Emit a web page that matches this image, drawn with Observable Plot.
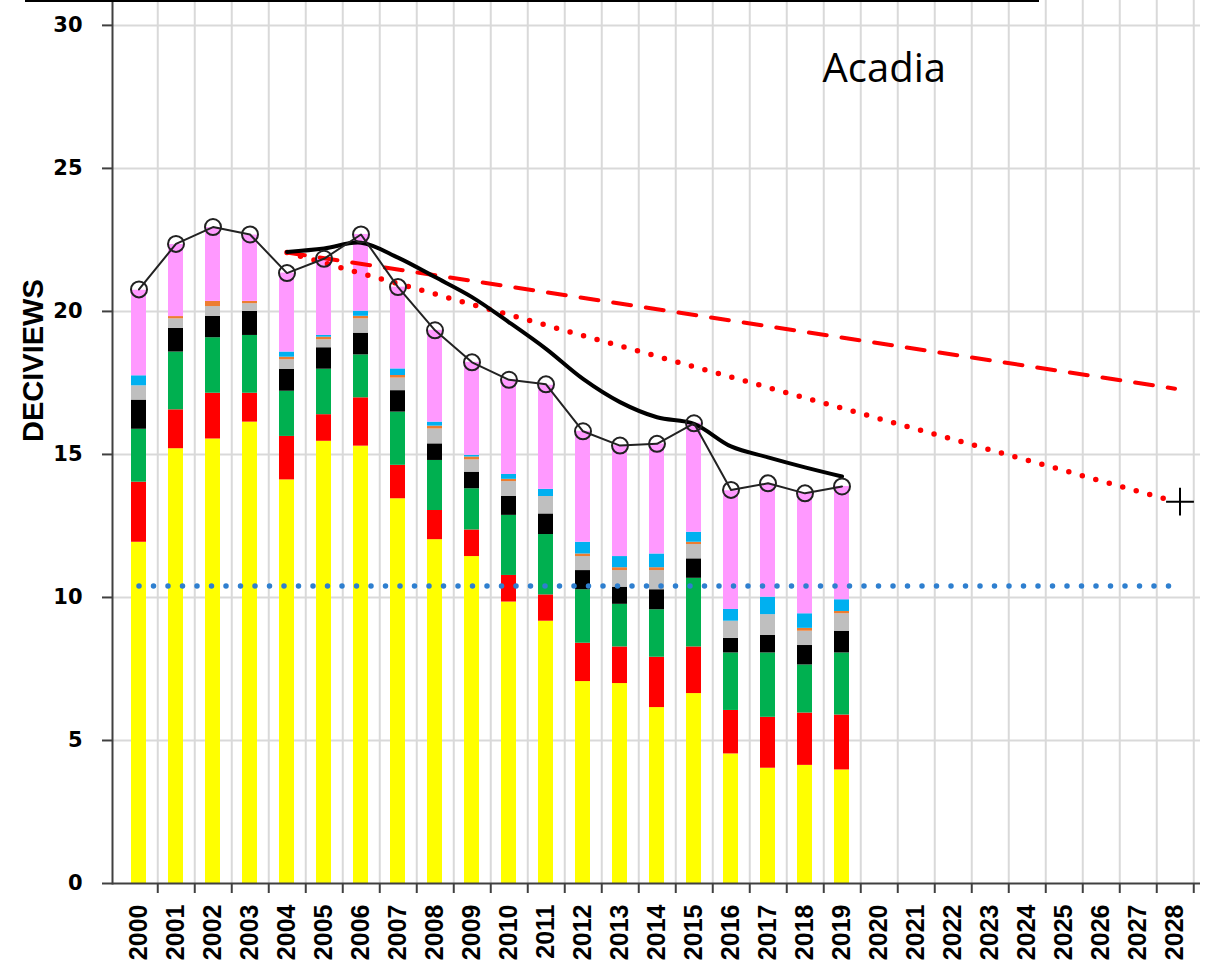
<!DOCTYPE html>
<html><head><meta charset="utf-8">
<script src="https://cdn.jsdelivr.net/npm/d3@7"></script>
<script src="https://cdn.jsdelivr.net/npm/@observablehq/plot@0.6"></script>
<style>
html,body{margin:0;padding:0;background:#fff;overflow:hidden}
#wrap{position:relative;width:1216px;height:974px}
#wrap svg{position:absolute;left:0;top:0}
#box{position:absolute;left:25px;top:-42px;width:1010px;height:40px;border:2px solid #000;z-index:2}
</style></head><body><div id="wrap"><div id="box"></div></div>
<script>
// ---- categories / tick labels ----
const years = [2000,2001,2002,2003,2004,2005,2006,2007,2008,2009,2010,2011,2012,2013,2014,2015,2016,2017,2018,2019,2020,2021,2022,2023,2024,2025,2026,2027,2028];
const dataYears = [2000,2001,2002,2003,2004,2005,2006,2007,2008,2009,2010,2011,2012,2013,2014,2015,2016,2017,2018,2019];
const yTicks = [0,5,10,15,20,25,30];
const siteName = "Acadia";
const yLabel = "DECIVIEWS";

// ---- stacked components (deciviews), bottom to top ----
const sulfate = [11.93,15.20,15.54,16.13,14.11,15.46,15.29,13.45,12.02,11.43,9.84,9.17,7.06,6.99,6.15,6.64,4.53,4.03,4.13,3.97];
const nitrate = [2.10,1.36,1.60,1.01,1.52,0.93,1.69,1.17,1.02,0.93,0.93,0.92,1.34,1.28,1.76,1.63,1.52,1.78,1.83,1.92];
const organic = [1.85,2.02,1.94,2.02,1.58,1.59,1.50,1.86,1.75,1.44,2.10,2.11,1.87,1.49,1.66,2.40,2.01,2.25,1.68,2.17];
const elemental = [1.02,0.83,0.75,0.84,0.76,0.75,0.76,0.75,0.58,0.58,0.66,0.72,0.67,0.60,0.70,0.68,0.51,0.61,0.68,0.76];
const soil = [0.50,0.33,0.34,0.27,0.34,0.28,0.50,0.44,0.52,0.43,0.52,0.61,0.49,0.58,0.67,0.50,0.60,0.73,0.50,0.61];
const seaSalt = [0.00,0.08,0.18,0.08,0.09,0.09,0.09,0.09,0.10,0.10,0.08,0.00,0.09,0.10,0.10,0.08,0.00,0.00,0.10,0.08];
const coarse = [0.35,0.00,0.00,0.00,0.18,0.06,0.18,0.23,0.14,0.06,0.17,0.25,0.41,0.39,0.48,0.35,0.41,0.61,0.51,0.41];
const rayleigh = [2.99,2.52,2.58,2.32,2.76,2.68,2.68,2.86,3.21,3.25,3.31,3.64,3.88,3.88,3.85,3.81,4.15,3.95,4.21,3.96];

// ---- lines ----
const totals = [20.77,22.36,22.95,22.69,21.34,21.84,22.69,20.85,19.34,18.22,17.61,17.45,15.81,15.31,15.37,16.09,13.76,13.99,13.64,13.88];
const avgYears = [2004,2005,2006,2007,2008,2009,2010,2011,2012,2013,2014,2015,2016,2017,2018,2019];
const rollingAvg = [22.08,22.2,22.4,21.88,21.2,20.5,19.62,18.69,17.64,16.83,16.3,16.07,15.28,14.9,14.55,14.23];
const pathYears = [2004,2028];
const dashedPath = [22.06,17.3];
const dottedPath = [22.06,13.35];
const naturalYears = [2000,2028];
const naturalValue = [10.4,10.4];
const goalYear = [2028];
const goalValue = [13.35];

const seriesNames = ["Sulfate","Nitrate","Organic","Elemental Carbon","Soil","Sea Salt","Coarse Mass","Rayleigh"];
const seriesValues = [sulfate,nitrate,organic,elemental,soil,seaSalt,coarse,rayleigh];
const seriesColors = ["#FFFF00","#FF0000","#00B050","#000000","#BFBFBF","#ED7D31","#00B0F0","#FF99FF"];

const rows = [];
seriesNames.forEach((name, s) => dataYears.forEach((yr, i) => rows.push({year: yr, series: name, value: seriesValues[s][i]})));
const totalRows = dataYears.map((yr, i) => ({year: yr, v: totals[i]}));
const avgRows = avgYears.map((yr, i) => ({year: yr, v: rollingAvg[i]}));
const dashedRows = pathYears.map((yr, i) => ({year: yr, v: dashedPath[i]}));
const dottedRows = pathYears.map((yr, i) => ({year: yr, v: dottedPath[i]}));
const naturalRows = naturalYears.map((yr, i) => ({year: yr, v: naturalValue[i]}));
const goalRows = goalYear.map((yr, i) => ({year: yr, v: goalValue[i]}));

const left = 112, right = 1200;
const step = (right - left) / years.length;

const chart = Plot.plot({
  width: 1216, height: 974,
  marginLeft: left, marginRight: 1216 - right, marginTop: 0, marginBottom: 91,
  style: {fontFamily: "'DejaVu Sans', sans-serif", background: "white", color: "#000"},
  x: {type: "band", domain: years, paddingInner: 0.6, paddingOuter: 0.3, axis: null},
  y: {domain: [0, 30.87], axis: null},
  color: {domain: seriesNames, range: seriesColors},
  marks: [
    Plot.ruleY(yTicks.filter(d => d > 0), {stroke: "#d9d9d9", strokeWidth: 2}),
    Plot.ruleX(years, {x: d => d, dx: step / 2, stroke: "#d9d9d9", strokeWidth: 2}),
    Plot.barY(rows, {x: "year", y: "value", fill: "series", order: seriesNames}),
    Plot.axisY(yTicks, {tickSize: 10, tickPadding: 20, fontSize: 21, fontWeight: "bold", strokeWidth: 2, stroke: "#404040", label: null}),
    Plot.axisX(years, {tickSize: 0, tickPadding: 21, tickRotate: -90, fontSize: 25, fontWeight: "bold", fontFamily: "'Liberation Sans', Arial, sans-serif", tickFormat: d => String(d), label: null}),
    Plot.axisX(years, {tickSize: 10, tickFormat: () => "", dx: step / 2, strokeWidth: 2, stroke: "#404040", label: null}),
    Plot.frame({anchor: "left", stroke: "#404040", strokeWidth: 2}),
    Plot.ruleY([0], {stroke: "#404040", strokeWidth: 2}),
    Plot.lineY(naturalRows, {x: "year", y: "v", stroke: "#2E7FCF", strokeWidth: 5.5, strokeDasharray: "0,14.5", strokeLinecap: "round"}),
    Plot.lineY(dashedRows, {x: "year", y: "v", stroke: "#FF0000", strokeWidth: 4, strokeDasharray: "18,15"}),
    Plot.lineY(dottedRows, {x: "year", y: "v", stroke: "#FF0000", strokeWidth: 5.5, strokeDasharray: "0,14", strokeLinecap: "round"}),
    Plot.lineY(avgRows, {x: "year", y: "v", stroke: "#000", strokeWidth: 4, curve: "catmull-rom"}),
    Plot.lineY(totalRows, {x: "year", y: "v", stroke: "#222", strokeWidth: 2}),
    Plot.dot(totalRows, {x: "year", y: "v", r: 8, stroke: "#222", strokeWidth: 2, fill: "none"}),
    Plot.dot(goalRows, {x: "year", y: "v", symbol: "plus", r: 9, dx: 5, stroke: "#000", strokeWidth: 2}),
    Plot.text([siteName], {text: d => d, frameAnchor: "top-left", dx: 710, dy: 53, lineAnchor: "top", textAnchor: "start", fontSize: 40, fontFamily: "'Open Sans', sans-serif", fill: "#000"}),
    Plot.text([yLabel], {text: d => d, frameAnchor: "left", rotate: -90, dx: -79, fontSize: 29, fontWeight: "bold", fontFamily: "'Liberation Sans', Arial, sans-serif", fill: "#000"})
  ]
});
document.getElementById("wrap").appendChild(chart);
</script>
</body></html>
